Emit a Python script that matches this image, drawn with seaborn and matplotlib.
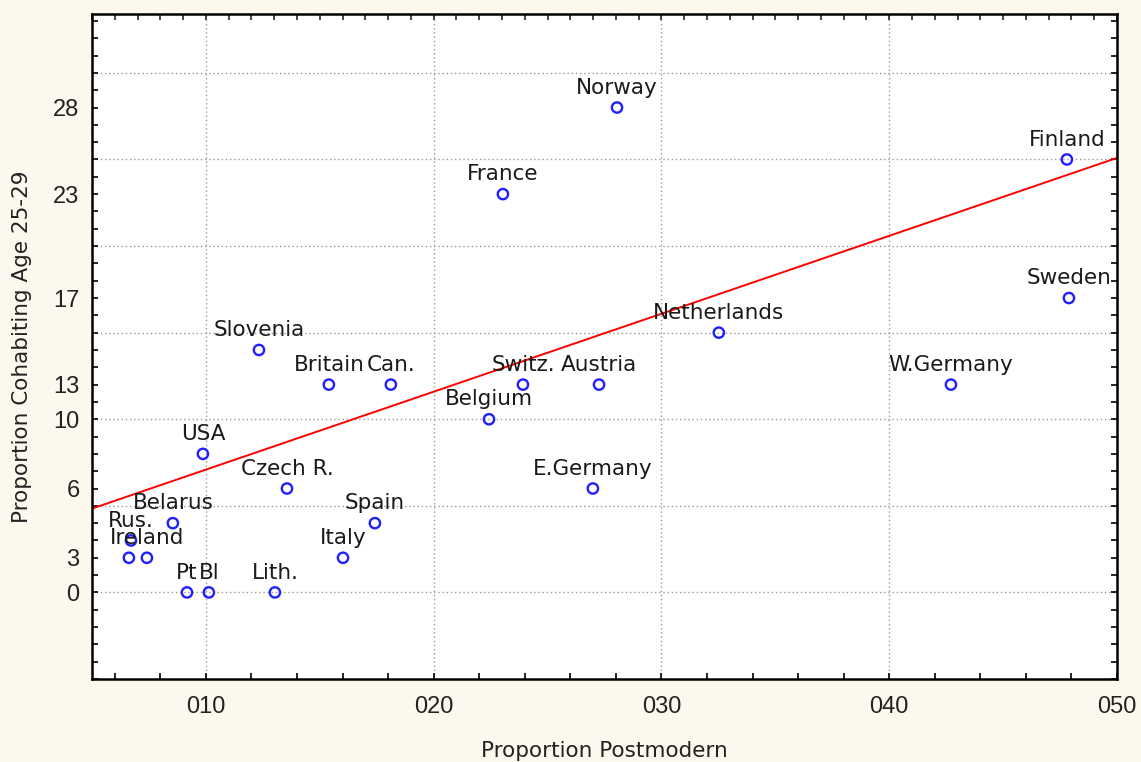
import numpy as np
import pandas as pd
import seaborn as sns
import matplotlib
matplotlib.use('Agg')
import matplotlib.pyplot as plt
from matplotlib.ticker import MultipleLocator, FixedLocator

# values
countries = ['Norway', 'France', 'Finland', 'Sweden', 'Netherlands', 'Slovenia',
             'Britain', 'Can.', 'Switz.', 'Austria', 'W.Germany', 'Belgium',
             'USA', 'Czech R.', 'E.Germany', 'Spain', 'Belarus', 'Rus.',
             '', 'Ireland', 'Italy', 'Pt', 'Bl', 'Lith.']
postmodern = [0.2805, 0.2304, 0.4780, 0.4789, 0.3252, 0.1233,
              0.1540, 0.1812, 0.2392, 0.2726, 0.4271, 0.2243,
              0.0987, 0.1356, 0.2699, 0.1742, 0.0855, 0.0671,
              0.0662, 0.0741, 0.1602, 0.0917, 0.1013, 0.1303]
cohabiting = [28, 23, 25, 17, 15, 14,
              12, 12, 12, 12, 12, 10,
              8, 6, 6, 4, 4, 3,
              2, 2, 2, 0, 0, 0]

# fitted line as drawn in the picture
fit_intercept = 2.59
fit_slope = 45.0

xtick_values = [0.10, 0.20, 0.30, 0.40, 0.50]
xtick_labels = ['010', '020', '030', '040', '050']
ytick_values = [0, 2, 6, 10, 12, 17, 23, 28]
ytick_labels = ['0', '3', '6', '10', '13', '17', '23', '28']
ygrid_values = [0, 5, 10, 15, 20, 25, 30]

df = pd.DataFrame({'Country': countries, 'Postmodern': postmodern,
                   'Cohabiting': cohabiting})

sns.set_style('white')
plt.rcParams['font.family'] = ['DejaVu Sans']

fig = plt.figure(figsize=(11.41, 7.62), dpi=100, facecolor='#fcf8ee')
ax = fig.add_axes([92 / 1141, 1 - 679 / 762, (1117 - 92) / 1141, (679 - 14) / 762])
ax.set_facecolor('white')

xlim = (0.05, 0.50)
ylim = (-5.0, 33.4)

# grid
for gy in ygrid_values:
    ax.axhline(gy, color='#9a9a9a', lw=1.0, ls=(0, (1, 2)), zorder=0)
for gx in xtick_values:
    ax.axvline(gx, color='#9a9a9a', lw=1.0, ls=(0, (1, 2)), zorder=0)

# regression line
line_x = np.array(xlim)
line_df = pd.DataFrame({'x': line_x, 'y': fit_intercept + fit_slope * line_x})
sns.lineplot(data=line_df, x='x', y='y', color='#ff0000', lw=1.4, ax=ax, zorder=2)

sns.scatterplot(data=df, x='Postmodern', y='Cohabiting', ax=ax, s=55,
                marker='o', facecolors='none', edgecolors='#1f1fff',
                linewidths=1.7, zorder=3, legend=False)

for _, r in df.iterrows():
    if r['Country']:
        ax.annotate(r['Country'], (r['Postmodern'], r['Cohabiting']),
                    xytext=(0, 10), textcoords='offset points',
                    ha='center', va='baseline', fontsize=15.5, color='#1a1a1a',
                    zorder=4)

ax.set_xlim(*xlim)
ax.set_ylim(*ylim)

ax.xaxis.set_major_locator(FixedLocator(xtick_values))
ax.set_xticklabels(xtick_labels)
ax.xaxis.set_minor_locator(MultipleLocator(0.02))
ax.yaxis.set_major_locator(FixedLocator(ytick_values))
ax.set_yticklabels(ytick_labels)
ax.yaxis.set_minor_locator(MultipleLocator(1))

tick_font = ['Liberation Sans Narrow', 'Liberation Sans', 'DejaVu Sans']
for lab in ax.get_xticklabels() + ax.get_yticklabels():
    lab.set_family(tick_font)
    lab.set_fontsize(17)
    lab.set_color('#222222')

ax.tick_params(axis='both', which='both', direction='in', length=4, width=1.2,
               color='black')
ax.tick_params(axis='y', which='both', left=True, right=True, pad=9)
ax.tick_params(axis='x', which='both', bottom=True, top=False, pad=12)

top = ax.secondary_xaxis('top')
top.xaxis.set_major_locator(FixedLocator(xtick_values))
top.xaxis.set_minor_locator(MultipleLocator(0.01))
top.tick_params(axis='x', which='both', direction='in', length=4, width=1.2,
                labeltop=False)
top.spines['top'].set_visible(False)

for sp in ax.spines.values():
    sp.set_color('black')
    sp.set_linewidth(1.8)

ax.set_xlabel('Proportion Postmodern', fontsize=15.5, color='#222222', labelpad=17)
ax.set_ylabel('Proportion Cohabiting Age 25-29', fontsize=15.5, color='#222222',
              labelpad=15)

fig.savefig('out.png', dpi=100, facecolor=fig.get_facecolor())
